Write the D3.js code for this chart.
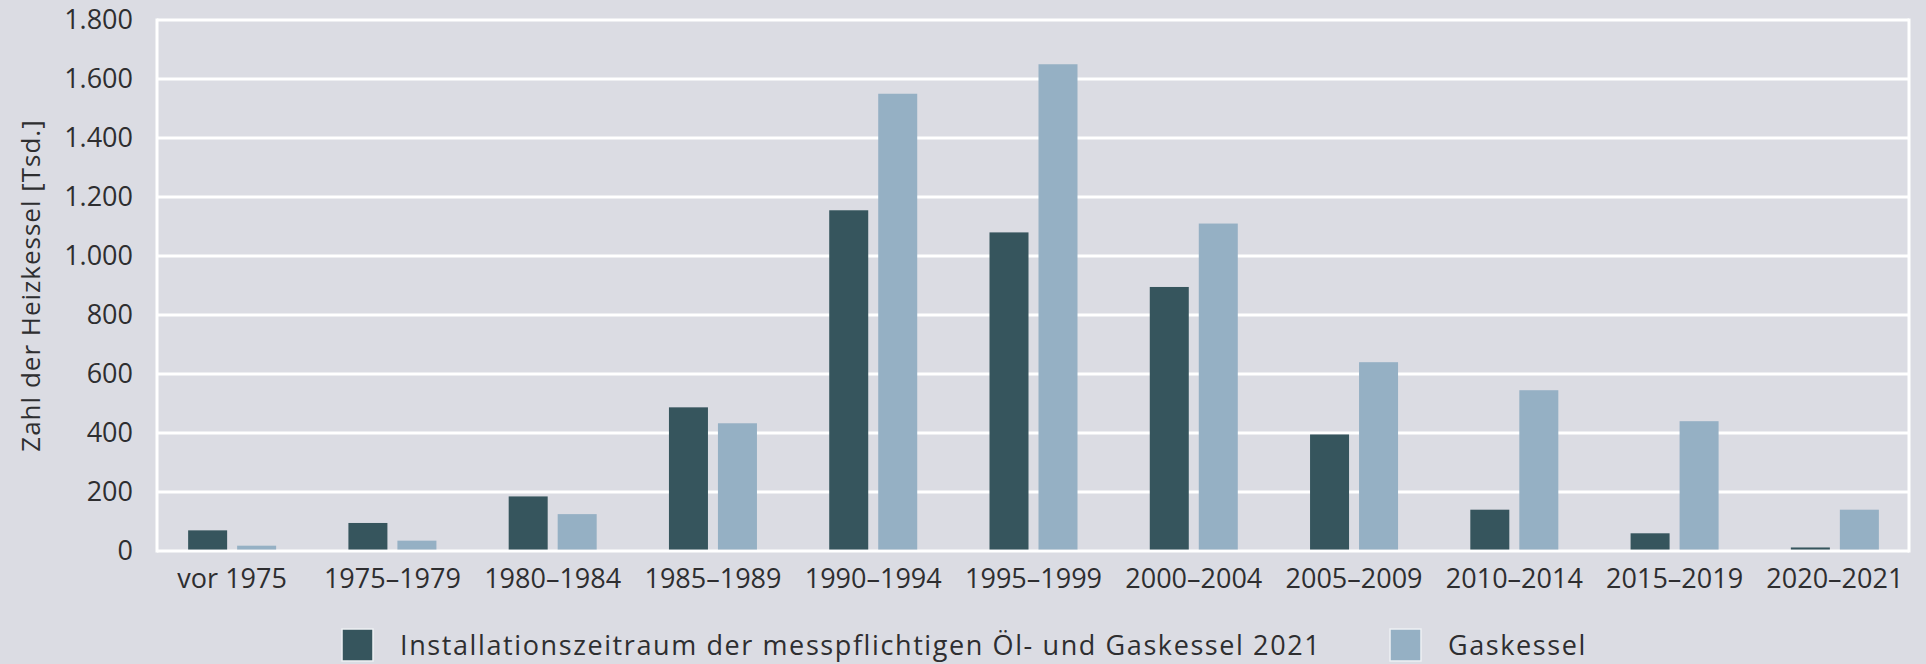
<!DOCTYPE html>
<html>
<head>
<meta charset="utf-8">
<script src="https://cdn.jsdelivr.net/npm/d3@7"></script>
<style>
  html, body { margin: 0; padding: 0; background: #dbdce3; }
  svg { display: block; }
  text { font-family: "Open Sans", sans-serif; fill: #2e2e30; }
</style>
</head>
<body>
<div id="chart"></div>
<script>
// Zeiträume (Kategorien)
var periods = ["vor 1975", "1975–1979", "1980–1984", "1985–1989", "1990–1994",
  "1995–1999", "2000–2004", "2005–2009", "2010–2014", "2015–2019", "2020–2021"];
// messpflichtige Öl- und Gaskessel [Tsd.]
var oelGas = [70, 95, 185, 487, 1155, 1080, 895, 395, 140, 60, 12];
// Gaskessel [Tsd.]
var gasKessel = [18, 35, 125, 433, 1550, 1650, 1110, 640, 545, 440, 140];
var yTicks = [0, 200, 400, 600, 800, 1000, 1200, 1400, 1600, 1800];
var seriesNames = ["Installationszeitraum der messpflichtigen Öl- und Gaskessel 2021", "Gaskessel"];
var colors = ["#36555d", "#95b0c4"];

var W = 1926, H = 664;
var plot = { left: 157, right: 1909, top: 20, bottom: 551 };

var svg = d3.select("#chart").append("svg")
  .attr("width", W)
  .attr("height", H);

var x = d3.scaleBand()
  .domain(periods)
  .range([152, 1915])
  .padding(0);

var y = d3.scaleLinear()
  .domain([0, 1800])
  .range([plot.bottom, plot.top]);

var barW = 39, gap = 10;

// gridlines
svg.append("g")
  .selectAll("line")
  .data(yTicks)
  .enter()
  .append("line")
  .attr("x1", plot.left)
  .attr("x2", plot.right)
  .attr("y1", function (d) { return y(d); })
  .attr("y2", function (d) { return y(d); })
  .style("stroke", "#fff")
  .style("stroke-width", 3);

// frame left / right
svg.append("line")
  .attr("x1", plot.left).attr("x2", plot.left)
  .attr("y1", plot.top - 1.5).attr("y2", plot.bottom + 1.5)
  .style("stroke", "#fff").style("stroke-width", 3);
svg.append("line")
  .attr("x1", plot.right).attr("x2", plot.right)
  .attr("y1", plot.top - 1.5).attr("y2", plot.bottom + 1.5)
  .style("stroke", "#fff").style("stroke-width", 3);

// bars
var groups = svg.append("g")
  .selectAll("g")
  .data(periods)
  .enter()
  .append("g")
  .attr("transform", function (d) {
    return "translate(" + (x(d) + x.bandwidth() / 2) + ",0)";
  });

groups.append("rect")
  .attr("x", -gap / 2 - barW)
  .attr("width", barW)
  .attr("y", function (d, i) { return y(oelGas[i]); })
  .attr("height", function (d, i) { return y(0) - 1.5 - y(oelGas[i]); })
  .style("fill", colors[0]);

groups.append("rect")
  .attr("x", gap / 2)
  .attr("width", barW)
  .attr("y", function (d, i) { return y(gasKessel[i]); })
  .attr("height", function (d, i) { return y(0) - 1.5 - y(gasKessel[i]); })
  .style("fill", colors[1]);

// y axis labels
var yAxis = d3.axisLeft(y)
  .tickValues(yTicks)
  .tickSize(0)
  .tickPadding(0)
  .tickFormat(function (d) {
    return d3.format(",")(d).replace(/,/g, ".");
  });

var yg = svg.append("g")
  .attr("transform", "translate(133,0)")
  .call(yAxis);
yg.select(".domain").remove();
yg.selectAll("text")
  .style("font-family", "'Open Sans', sans-serif")
  .style("font-size", "27px")
  .style("fill", "#2e2e30");

// x axis labels
var xAxis = d3.axisBottom(x).tickSize(0).tickPadding(0);
var xg = svg.append("g")
  .attr("transform", "translate(0,569)")
  .call(xAxis);
xg.select(".domain").remove();
xg.selectAll("text")
  .style("font-family", "'Open Sans', sans-serif")
  .style("font-size", "27px")
  .style("fill", "#2e2e30");

// y axis title
svg.append("text")
  .attr("transform", "translate(40," + ((plot.top + plot.bottom) / 2) + ") rotate(-90)")
  .attr("text-anchor", "middle")
  .style("font-size", "26px")
  .style("letter-spacing", "1px")
  .text("Zahl der Heizkessel [Tsd.]");

// legend
var legendX = [342, 1390];
var legend = svg.append("g")
  .selectAll("g")
  .data(seriesNames)
  .enter()
  .append("g")
  .attr("transform", function (d, i) {
    return "translate(" + legendX[i] + ",629)";
  });

legend.append("rect")
  .attr("width", 31)
  .attr("height", 32)
  .style("fill", function (d, i) { return colors[i]; })
  .style("stroke", "#eef0f3")
  .style("stroke-width", 1.5);

legend.append("text")
  .attr("x", 58)
  .attr("y", 26)
  .style("font-size", "27px")
  .style("letter-spacing", "1.6px")
  .text(function (d) { return d; });
</script>
</body>
</html>
